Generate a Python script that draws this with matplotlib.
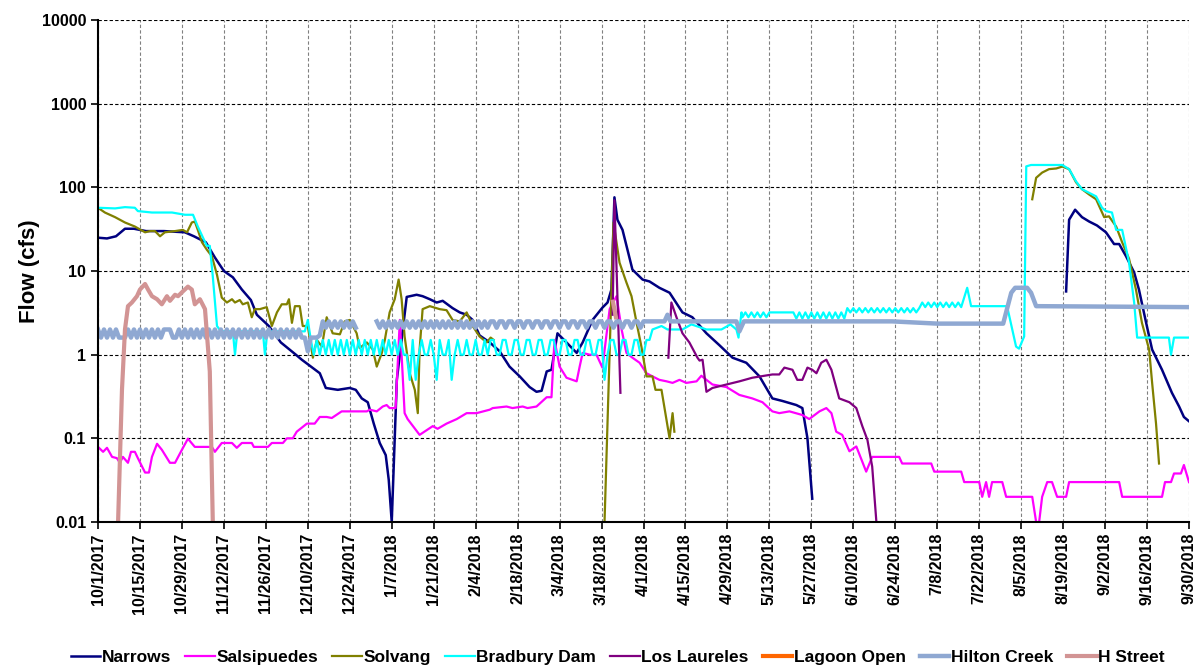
import numpy as np
import matplotlib
matplotlib.use('Agg')
import matplotlib.pyplot as plt
import matplotlib.dates as mdates
from matplotlib.ticker import NullLocator
from datetime import date, timedelta

plt.rcParams['font.family'] = ['Liberation Sans', 'DejaVu Sans']
plt.rcParams['font.weight'] = 'bold'

nan = np.nan
start = date(2017, 10, 1)

# days are counted from 10/1/2017, flows in cfs; nan = break in record
narrows_day = [0, 3, 6, 9, 12, 16, 22, 29, 32, 36,
               39, 42, 45, 48, 51, 53, 57, 61, 66, 68,
               74, 76, 80, 84, 86, 88, 90, 92, 94, 96,
               97, 98, 99.7, 103, 106.3, 108.3, 110.7, 113, 115, 118.3,
               120.7, 123, 125, 127.3, 130.7, 134, 137.3, 140.7, 144, 146.3,
               148, 149.7, 151.3, 153.3, 156.3, 159.7, 161.7, 165, 168.3, 170,
               171.3, 172.3, 173.3, 175, 178.3, 181.7, 184, 187.3, 190.7, 195,
               198.3, 203, 207.3, 211.7, 216.3, 220.7, 225, 228.3, 233, 235,
               236.7, 238.3, 280, 323, 324, 326, 328.3, 330.7, 333.3, 336.3,
               339, 340.7, 343, 345.7, 347.3, 349.7, 351.7, 355, 358.3, 360.7,
               362.3, 364]
narrows_cfs = [25, 24.5, 26, 32, 32, 30, 30, 29, 26, 22,
               14.5, 10, 8.4, 6, 4.5, 3.0, 2.2, 1.4, 1.0, 0.87,
               0.6, 0.4, 0.38, 0.4, 0.38, 0.3, 0.27, 0.15, 0.088, 0.063,
               0.032, 0.01, 0.5, 4.9, 5.2, 5.0, 4.6, 4.2, 4.4, 3.6,
               3.2, 3.0, 2.6, 1.7, 1.4, 1.1, 0.72, 0.55, 0.41, 0.36,
               0.37, 0.63, 0.66, 1.8, 1.4, 1.05, 1.4, 2.6, 3.65, 4.2,
               6, 76, 41, 31, 10.4, 7.9, 7.5, 6.3, 5.5, 3.2,
               2.8, 1.8, 1.3, 0.92, 0.8, 0.55, 0.3, 0.28, 0.25, 0.23,
               0.1, 0.019, nan, 5.7, 41, 54, 44, 39, 35, 29,
               21, 21, 15, 9.6, 6, 2.4, 1.15, 0.66, 0.35, 0.24,
               0.18, 0.16]

sals_day = [0, 1.7, 3, 4.7, 6.3, 7.3, 8.3, 10, 11, 12.3,
            13.3, 15.7, 17, 18, 19.7, 21.3, 24, 25.7, 28, 30,
            32.3, 38, 39, 41.3, 44.7, 46.3, 48, 51.3, 52, 56.7,
            58, 61.7, 63, 65, 66.3, 69.7, 72.3, 74, 76.3, 78,
            81.3, 89.7, 90.7, 93, 95, 96.3, 97.3, 99.3, 100.7, 102.3,
            103.3, 107.3, 111.7, 113.3, 116.3, 119.7, 123, 126.3, 130.7, 131.7,
            136.3, 138.3, 141.7, 143.3, 146.3, 149.7, 151.3, 152.3, 154, 156.3,
            159.7, 160.7, 161.7, 164, 166.3, 168.3, 170.7, 173, 174.7, 176.3,
            178.3, 180.7, 183, 185, 187.3, 189.7, 191.7, 194, 196.3, 199.7,
            201.3, 203, 205, 209.7, 214, 218.3, 221.7, 225, 227.3, 230.7,
            235, 237.3, 240.7, 243, 244.7, 246.3, 248.3, 250.7, 253, 256.3,
            258.3, 267.3, 268.3, 278, 279, 288, 289, 294, 295, 296.3,
            297.3, 298.3, 301.7, 303, 311.7, 313, 314, 315, 316.7, 318.3,
            320, 323, 324, 340.7, 341.7, 355, 356, 358, 359, 361.3,
            362.3, 364]
sals_cfs = [0.079, 0.069, 0.077, 0.06, 0.058, 0.051, 0.06, 0.051, 0.069, 0.069,
            0.058, 0.039, 0.039, 0.06, 0.086, 0.073, 0.051, 0.051, 0.073, 0.099,
            0.079, 0.079, 0.069, 0.088, 0.088, 0.077, 0.088, 0.088, 0.079, 0.079,
            0.088, 0.088, 0.1, 0.1, 0.12, 0.15, 0.15, 0.18, 0.18, 0.175,
            0.21, 0.21, 0.22, 0.21, 0.24, 0.25, 0.23, 0.23, 2.6, 0.2,
            0.17, 0.11, 0.14, 0.13, 0.15, 0.17, 0.2, 0.2, 0.22, 0.23,
            0.24, 0.23, 0.24, 0.23, 0.24, 0.31, 0.31, 1.5, 0.72, 0.53,
            0.48, 0.72, 1.05, 1.0, 1.0, 0.7, 3.5, 5.0, 2.0, 1.05,
            0.92, 0.8, 0.6, 0.55, 0.5, 0.48, 0.46, 0.5, 0.46, 0.48,
            0.56, 0.5, 0.44, 0.41, 0.33, 0.3, 0.27, 0.21, 0.2, 0.21,
            0.19, 0.17, 0.21, 0.23, 0.2, 0.12, 0.11, 0.07, 0.08, 0.04,
            0.06, 0.06, 0.05, 0.05, 0.04, 0.04, 0.03, 0.03, 0.02, 0.03,
            0.02, 0.03, 0.03, 0.02, 0.02, 0.01, 0.01, 0.02, 0.03, 0.03,
            0.02, 0.02, 0.03, 0.03, 0.02, 0.02, 0.03, 0.03, 0.038, 0.038,
            0.048, 0.03]

solv_day = [0, 2.3, 5.7, 9, 12.3, 15.7, 17.3, 19, 20.7, 22.3,
            25.7, 28.3, 29.7, 31.3, 32.3, 33.3, 34.7, 36.3, 38, 39.7,
            41.3, 43, 44.7, 45.7, 47.3, 48.3, 50, 51.3, 52.3, 54,
            56.3, 58, 59.7, 61.3, 63, 63.7, 64.7, 65.7, 67.3, 68.3,
            70, 71.7, 73, 74.7, 76.3, 78.3, 80.7, 82.3, 84, 86.3,
            87.3, 89.7, 91.7, 93, 94.7, 95.7, 97.3, 99, 100.3, 101.3,
            102.3, 104, 105.7, 106.7, 107.3, 108.3, 110.7, 114, 116.3, 118.3,
            120.7, 123, 125, 127.3, 129.7, 131, 132, 150, 169, 172,
            174, 176.3, 178, 179.7, 181.3, 183, 185, 186, 188, 190.7,
            191.7, 192.3, 250, 311.7, 313, 315, 317.3, 319.7, 321.7, 324,
            326.3, 328.3, 330.7, 333, 335.7, 337.3, 339.7, 341.7, 344, 346.3,
            348.3, 350.7, 351.7, 353, 354]
solv_cfs = [57, 50, 44, 38, 34, 29, 30, 30, 26, 29,
            30, 31, 29, 38, 39, 31, 22, 18, 15, 9,
            4.8, 4.2, 4.6, 4.2, 4.5, 4.0, 4.2, 2.8, 3.5, 3.5,
            3.7, 2.2, 3.2, 4.0, 4.0, 4.6, 2.4, 3.8, 3.8, 2.2,
            2.2, 0.92, 1.5, 1.25, 2.8, 1.8, 1.75, 2.5, 2.6, 1.8,
            1.2, 1.4, 1.15, 0.72, 1.05, 1.5, 3.2, 4.6, 7.9, 4.6,
            1.65, 0.6, 0.38, 0.2, 1.15, 3.5, 3.8, 3.5, 3.4, 2.6,
            2.5, 3.2, 2.2, 1.65, 1.4, 1.6, 1.5, nan, 0.01, 38,
            12.6, 7.3, 5, 2.4, 1.25, 0.55, 0.55, 0.38, 0.38, 0.1,
            0.2, 0.12, nan, 72, 130, 150, 165, 168, 177, 165,
            115, 95, 82, 72, 44, 45, 34, 22, 14, 6,
            2.4, 1.15, 0.46, 0.15, 0.05]

# Bradbury Dam: breakpoints, then daily readings where the release flips
brad_fall_day = [0, 5.7, 9, 12.3, 13.3, 18, 24.7, 29, 31.7, 33.3,
                 36.3, 37.3, 38.3, 39.7, 41, 45, 45.7, 46.5, 55, 55.7,
                 56.5, 69, 70, 71]
brad_fall_cfs = [57, 56, 58, 57, 52, 50, 50, 47, 47, 34,
                 20, 20, 8.6, 2.2, 1.9, 1.9, 1.0, 1.9, 1.9, 1.0,
                 1.9, 1.9, 2.6, 1.5]
brad_winter_start = 72  # daily, 12/12/2017 - 4/3/2018
brad_winter = [1.0, 1.5, 1.0, 1.5, 1.0, 1.5, 1.0, 1.5, 1.0, 1.5,
               1.0, 1.5, 1.0, 1.5, 1.0, 1.5, 1.0, 1.5, 1.0, 1.5,
               1.0, 1.5, 1.0, 1.5, 1.0, 1.5, 1.0, 1.5, 1.0,
               1.5, 1.0, 1.0, 0.5, 1.5, 0.5, 1.0, 1.5, 1.0, 1.0,
               1.5, 1.0, 0.5, 1.5, 1.0, 1.0, 1.5, 0.5, 1.0, 1.5,
               1.0, 1.0, 1.5, 1.0, 1.0, 1.5, 1.0, 1.0, 1.5, 1.0,
               1.5, 1.5, 1.0, 1.0, 1.5, 1.5, 1.0, 1.0, 1.5, 1.5,
               1.0, 1.0, 1.5, 1.5, 1.0, 1.0, 1.5, 1.5, 1.0, 1.0,
               1.5, 1.5, 1.0, 1.0, 1.5, 1.5, 1.0, 1.0, 1.5, 1.5,
               1.0, 1.0, 1.5, 1.5, 1.0, 1.0, 1.5, 1.5, 0.5, 1.0,
               1.5, 1.5, 1.0, 1.0, 1.5, 1.5, 1.0, 1.0, 1.5, 1.5,
               1.0, 1.0, 1.5, 1.5]
brad_spring_day = [185, 188, 190, 195, 198, 203, 208, 211, 213, 213.7, 214.7]
brad_spring_cfs = [2.0, 2.2, 2.0, 2.0, 2.3, 2.0, 2.0, 2.3, 2.0, 1.6, 3.2]
brad_summer_start = 215  # daily, 5/3/2018 - 7/15/2018
brad_summer = [2.8, 3.2, 2.8, 3.2, 2.8, 3.2, 2.8, 3.2, 2.8, 3.2,
               3.2, 3.2, 3.2, 3.2, 3.2, 3.2, 3.2, 3.2,
               2.7, 3.2, 2.7, 3.2, 2.7, 3.2, 2.7, 3.2, 2.7, 3.2,
               2.7, 3.2, 2.7, 3.2, 2.7, 3.2, 2.7,
               3.6, 3.2, 3.6, 3.2, 3.6, 3.2, 3.6, 3.2, 3.6, 3.2,
               3.6, 3.2, 3.6, 3.2, 3.6, 3.2, 3.6, 3.2, 3.6, 3.2,
               3.6, 3.2, 3.6, 3.2, 3.6,
               4.2, 3.7, 4.2, 3.7, 4.2, 3.7, 4.2, 3.7, 4.2, 3.7,
               4.2, 3.7, 4.2, 3.7]
brad_late_day = [290, 291.3, 303.3, 306.3, 307.3, 309, 309.7, 311.3, 321.7, 324,
                 326.3, 328.3, 333, 335, 336.3, 338.3, 339.7, 341.7, 344, 345.7,
                 346.7, 357.3, 358, 359, 364]
brad_late_cfs = [6.3, 3.8, 3.8, 1.25, 1.18, 1.65, 178, 185, 185, 165,
                 118, 95, 78, 57, 52, 50, 31, 31, 12.6, 4.2,
                 1.6, 1.6, 1.0, 1.6, 1.6]

ll_day = [171.7, 172.3, 174.3, 182, 190.3, 191.3, 193, 195, 197.3, 200,
          200.7, 201.7, 203, 205, 209.7, 214, 218.3, 225, 227.3, 229,
          231.7, 233.3, 235, 236.7, 238.3, 239.7, 241.3, 243, 244.7, 247.3,
          250.7, 253, 255, 256.7, 258.3, 259.7]
ll_cfs = [3, 70, 0.35, nan, 0.92, 4.2, 2.8, 1.8, 1.4, 0.92,
          0.85, 0.87, 0.36, 0.4, 0.44, 0.48, 0.53, 0.58, 0.58, 0.7,
          0.66, 0.5, 0.5, 0.7, 0.66, 0.6, 0.8, 0.87, 0.66, 0.3,
          0.27, 0.23, 0.14, 0.096, 0.046, 0.01]

lagoon_day = []
lagoon_cfs = []

# Hilton Creek: daily readings in fall/winter, breakpoints after
hilton_fall_start = 0
hilton_fall = [2.0, 1.6, 2.0, 1.6, 2.0, 1.6, 2.0, 1.6, 1.6, 1.6,
               2.0, 1.6, 2.0, 1.6, 2.0, 1.6, 2.0, 1.6, 2.0, 1.6,
               2.0, 1.6, 2.0, 2.0, 2.0, 1.6, 1.6, 2.0, 1.6, 2.0,
               1.6, 2.0, 1.6, 2.0, 1.6, 2.0, 1.6, 2.0, 1.6, 2.0,
               1.6, 2.0, 1.6, 2.0, 1.6, 2.0, 1.6, 2.0, 1.6, 2.0,
               1.6, 2.0, 1.6, 2.0, 1.6, 2.0, 1.6, 2.0, 1.6, 2.0,
               1.6, 2.0, 1.6, 2.0, 1.6, 2.0, 1.6, 2.0, 1.6, 1.6,
               1.1, 1.6, 1.6, 1.6, 1.7, 2.5, 2.1, 2.5, 2.1, 2.5,
               2.1, 2.5, 2.1, 2.5, 2.1, 2.5, 2.1]
hilton_winter_start = 93
hilton_winter = [2.5, 2.1, 2.5, 2.1, 2.5, 2.1, 2.5, 2.1, 2.5, 2.1,
                 2.5, 2.1, 2.5, 2.1, 2.5, 2.1, 2.5, 2.1, 2.5, 2.1,
                 2.5, 2.1, 2.5, 2.1, 2.5, 2.1, 2.5, 2.1, 2.5, 2.1,
                 2.5, 2.1, 2.5, 2.1, 2.5, 2.1, 2.5, 2.1,
                 2.5, 2.5, 2.1, 2.5, 2.5, 2.1, 2.5, 2.5, 2.1, 2.5,
                 2.5, 2.1, 2.5, 2.5, 2.1, 2.5, 2.5, 2.1, 2.5, 2.5,
                 2.1, 2.5, 2.5, 2.1, 2.5, 2.5, 2.1, 2.5, 2.5, 2.1,
                 2.5, 2.5, 2.1, 2.5, 2.5, 2.1, 2.5, 2.5, 2.1, 2.5,
                 2.5, 2.1, 2.5, 2.5, 2.1, 2.5, 2.5, 2.1, 2.5, 2.5,
                 2.1, 2.5, 2.5]
hilton_summer_day = [189, 190, 191, 213, 214, 215.5, 265, 280, 302, 304.7,
                     306, 310, 311.3, 313, 364]
hilton_summer_cfs = [2.5, 3.0, 2.5, 2.5, 1.9, 2.5, 2.5, 2.35, 2.35, 5.5,
                     6.3, 6.3, 5.5, 3.8, 3.7]

hst_day = [6.7, 8, 9, 10, 11.3, 13, 14, 15.7, 16.7, 18,
           19.7, 21.3, 23, 24, 25.7, 26.7, 28.3, 30, 31.3, 32.3,
           34, 35.7, 37.3, 38.3, 100, 171.8, 172.8]
hst_cfs = [0.01, 0.38, 2.0, 3.8, 4.2, 5, 6, 7, 6, 5,
           4.6, 4.0, 5, 4.4, 5.2, 5, 5.7, 6.5, 6, 4.0,
           4.6, 3.5, 0.63, 0.01, nan, 4.3, 2.8]


def daily(first, vals):
    return list(np.arange(first, first + len(vals))), list(vals)


d1, v1 = daily(brad_winter_start, brad_winter)
d2, v2 = daily(brad_summer_start, brad_summer)
brad_day = brad_fall_day + d1 + brad_spring_day + d2 + brad_late_day
brad_cfs = brad_fall_cfs + v1 + brad_spring_cfs + v2 + brad_late_cfs

h1, w1 = daily(hilton_fall_start, hilton_fall)
h2, w2 = daily(hilton_winter_start, hilton_winter)
hilton_day = h1 + [90] + h2 + hilton_summer_day
hilton_cfs = w1 + [nan] + w2 + hilton_summer_cfs

x0 = mdates.date2num(start)

series = [
    ('Narrows', narrows_day, narrows_cfs, '#000080', 1.8),
    ('Salsipuedes', sals_day, sals_cfs, '#FF00FF', 1.6),
    ('Solvang', solv_day, solv_cfs, '#808000', 1.6),
    ('Bradbury Dam', brad_day, brad_cfs, '#00FFFF', 1.6),
    ('Los Laureles', ll_day, ll_cfs, '#800080', 1.6),
    ('Lagoon Open', lagoon_day, lagoon_cfs, '#FF6600', 3.0),
    ('Hilton Creek', hilton_day, hilton_cfs, '#8FA8D2', 3.2),
    ('H Street', hst_day, hst_cfs, '#D29494', 3.0),
]

fig = plt.figure(figsize=(12, 6.69), dpi=100)
ax = fig.add_axes([98 / 1200, 1 - 522 / 669, (1189 - 98) / 1200, (522 - 20) / 669])

handles = []
for name, d, v, c, lw in series:
    ln, = ax.plot(x0 + np.array(d, dtype=float), np.array(v, dtype=float),
                  color=c, lw=lw, label=name, solid_joinstyle='round')
    handles.append(ln)

ax.set_yscale('log')
ax.set_ylim(0.01, 10000)
ax.set_yticks([0.01, 0.1, 1, 10, 100, 1000, 10000])
ax.set_yticklabels(['0.01', '0.1', '1', '10', '100', '1000', '10000'])
ax.yaxis.set_minor_locator(NullLocator())

ticks = [start + timedelta(days=14 * i) for i in range(27)]
ax.set_xlim(x0, x0 + 364)
ax.set_xticks([mdates.date2num(t) for t in ticks])
ax.set_xticklabels([f'{t.month}/{t.day}/{t.year}' for t in ticks], rotation=90)

ax.tick_params(axis='both', direction='out', length=5, width=1.2, labelsize=11.5)
ax.tick_params(axis='x', pad=3)
ax.yaxis.grid(True, color='black', linestyle=(0, (3, 2)), lw=0.8)
ax.xaxis.grid(True, color='#808080', linestyle=(0, (3, 2)), lw=0.8)
ax.set_axisbelow(True)
for s in ['top', 'right']:
    ax.spines[s].set_visible(False)
for s in ['left', 'bottom']:
    ax.spines[s].set_linewidth(1.5)

ax.set_ylabel('Flow (cfs)', fontsize=16, fontweight='bold')
ax.yaxis.set_label_coords(-0.053, 0.5)

fig.legend(handles=handles, loc='center', bbox_to_anchor=(0.515, 0.017), ncol=8,
           frameon=False, fontsize=12.5, handlelength=1.7, handletextpad=0.1,
           columnspacing=0.8)

fig.savefig('out.png', dpi=100)
